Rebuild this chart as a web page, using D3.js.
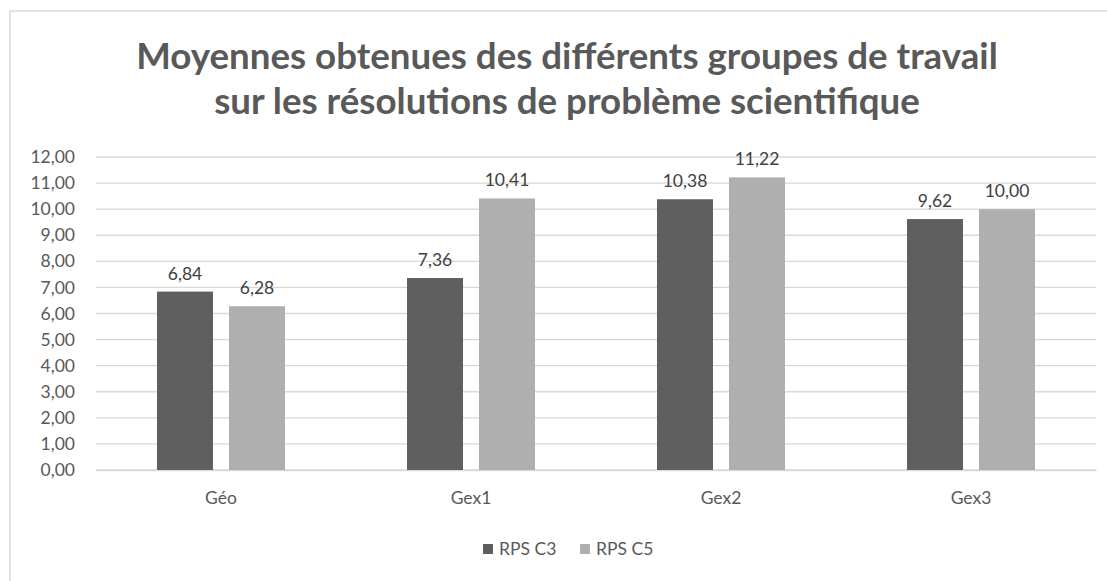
<!DOCTYPE html>
<html>
<head>
<meta charset="utf-8">
<script src="https://cdn.jsdelivr.net/npm/d3@7"></script>
<style>
  body { margin: 0; background: #fff; }
  text { font-family: Lato, "Open Sans", sans-serif; }
</style>
</head>
<body>
<svg></svg>
<script>
const categories = ['Géo', 'Gex1', 'Gex2', 'Gex3'];
const seriesNames = ['RPS C3', 'RPS C5'];
const rpsC3 = [6.84, 7.36, 10.38, 9.62];
const rpsC5 = [6.28, 10.41, 11.22, 10.00];
const yTicks = [0, 1, 2, 3, 4, 5, 6, 7, 8, 9, 10, 11, 12];
const titleLines = ['Moyennes obtenues des différents groupes de travail', 'sur les résolutions de problème scientifique'];

const colors = ['#5f5f5f', '#afafaf'];
const W = 1107, H = 581;
const plotLeft = 96, plotRight = 1096, plotTop = 157, plotBottom = 470;
const fs = 17.5;

const svg = d3.select('svg').attr('width', W).attr('height', H);

// chart frame
svg.append('rect')
  .attr('x', 10).attr('y', 11)
  .attr('width', W + 10).attr('height', H + 10)
  .attr('fill', 'none').attr('stroke', '#d9d9d9').attr('stroke-width', 1.5);

// title
const title = svg.append('text')
  .attr('text-anchor', 'middle')
  .attr('fill', '#595959')
  .attr('font-weight', 'bold');
titleLines.forEach((t, i) => {
  title.append('tspan').attr('x', 567).attr('y', 69 + i * 45).text(t);
});
title.attr('font-size', 34);
const w0 = title.select('tspan').node().getComputedTextLength();
title.attr('font-size', 34 * 862 / w0);

const fmt = v => d3.format('.2f')(v).replace('.', ',');

const x0 = d3.scaleBand().domain(categories).range([plotLeft, plotRight]);
const x1 = d3.scaleBand().domain(seriesNames).range([-64, 64]).paddingInner(16 / 72);
const y = d3.scaleLinear().domain([0, 12]).range([plotBottom, plotTop]);

// gridlines
svg.append('g')
  .selectAll('line')
  .data(yTicks)
  .join('line')
  .attr('x1', plotLeft).attr('x2', plotRight)
  .attr('y1', d => y(d)).attr('y2', d => y(d))
  .attr('stroke', '#d9d9d9').attr('stroke-width', 1.3);

// y axis labels
const yAxis = svg.append('g')
  .attr('transform', `translate(${plotLeft - 21},0)`)
  .call(d3.axisLeft(y).tickValues(yTicks).tickFormat(fmt).tickSize(0).tickPadding(0));
yAxis.select('.domain').remove();
yAxis.selectAll('text')
  .attr('font-size', fs).attr('fill', '#595959')
  .attr('font-family', 'Lato, "Open Sans", sans-serif');

// x axis labels
const xAxis = svg.append('g')
  .attr('transform', `translate(0,${plotBottom})`)
  .call(d3.axisBottom(x0).tickSize(0).tickPadding(22));
xAxis.select('.domain').attr('stroke', '#d9d9d9').attr('stroke-width', 1.3);
xAxis.selectAll('text')
  .attr('font-size', fs).attr('fill', '#595959')
  .attr('font-family', 'Lato, "Open Sans", sans-serif');

const data = categories.map((c, i) => ({ cat: c, vals: [rpsC3[i], rpsC5[i]] }));

const groups = svg.append('g')
  .selectAll('g')
  .data(data)
  .join('g')
  .attr('transform', d => `translate(${x0(d.cat) + x0.bandwidth() / 2},0)`);

groups.selectAll('rect')
  .data(d => d.vals.map((v, j) => ({ name: seriesNames[j], v, j })))
  .join('rect')
  .attr('x', d => x1(d.name))
  .attr('width', x1.bandwidth())
  .attr('y', d => y(d.v))
  .attr('height', d => y(0) - y(d.v))
  .attr('fill', d => colors[d.j]);

groups.selectAll('text.val')
  .data(d => d.vals.map((v, j) => ({ name: seriesNames[j], v, j })))
  .join('text')
  .attr('class', 'val')
  .attr('x', d => x1(d.name) + x1.bandwidth() / 2)
  .attr('y', d => y(d.v) - 12)
  .attr('text-anchor', 'middle')
  .attr('font-size', fs).attr('fill', '#404040')
  .text(d => fmt(d.v));

// legend
const legend = svg.append('g').attr('transform', 'translate(483,549)');
const legX = [0, 97];
seriesNames.forEach((n, i) => {
  legend.append('rect')
    .attr('x', legX[i]).attr('y', -5)
    .attr('width', 10).attr('height', 10)
    .attr('fill', colors[i]);
  legend.append('text')
    .attr('x', legX[i] + 16).attr('y', 6)
    .attr('font-size', fs).attr('fill', '#595959')
    .text(n);
});
</script>
</body>
</html>
